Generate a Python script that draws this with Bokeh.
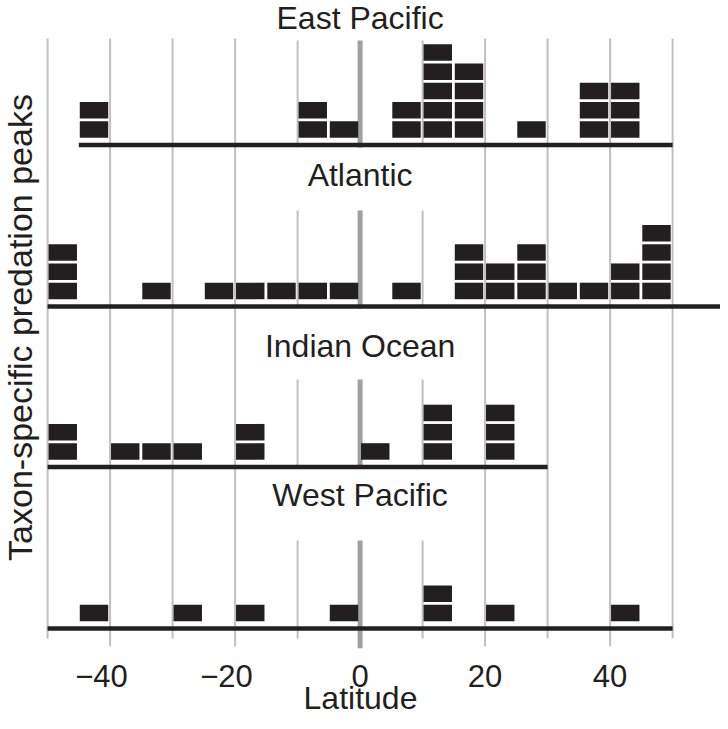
import math
from bokeh.plotting import figure
from bokeh.models import Range1d, FixedTicker, ColumnDataSource
from bokeh.core.properties import value
from bokeh.embed import file_html
from bokeh.resources import INLINE

# ---------------- data ----------------
bin_start = [-50, -45, -40, -35, -30, -25, -20, -15, -10, -5,
             0, 5, 10, 15, 20, 25, 30, 35, 40, 45]
east_pacific = [0, 2, 0, 0, 0, 0, 0, 0, 2, 1, 0, 2, 5, 4, 0, 1, 0, 3, 3, 0]
atlantic     = [3, 0, 0, 1, 0, 1, 1, 1, 1, 1, 0, 1, 0, 3, 2, 3, 1, 1, 2, 4]
indian_ocean = [2, 0, 1, 1, 1, 0, 2, 0, 0, 0, 1, 0, 3, 0, 3, 0, 0, 0, 0, 0]
west_pacific = [0, 1, 0, 0, 1, 0, 1, 0, 0, 1, 0, 0, 2, 0, 1, 0, 0, 0, 1, 0]
region_names = ["East Pacific", "Atlantic", "Indian Ocean", "West Pacific"]
sampled_from = [-45, -50, -50, -50]
sampled_to = [50, 60, 30, 50]
x_ticks = [-40, -20, 0, 20, 40]
x_tick_labels = ["\u221240\u2007", "\u221220\u2007", "0", "20", "40"]
x_title = "Latitude"
y_title = "Taxon-specific predation peaks"

# ---------------- layout (canvas pixel coordinates) ----------------
W, H = 720, 721
FRAME_H = 648
BOTTOM = H - FRAME_H
PX_PER_DEG = 6.25
ZERO_X = 359.6            # canvas x of latitude 0
PITCH = 19.25             # px per stacked block
BLOCK_H = 16.5 / PITCH
BLOCK_GAP = 7.3 / PITCH
FONT = "Liberation Sans"
INK = "#231f20"
MID = 0.3465              # baseline-to-middle offset (em) for Liberation Sans


def ydat(cy):
    return (FRAME_H - cy) / PITCH


def xdat(cx):
    return (cx - ZERO_X) / PX_PER_DEG


baseline_px = [144.5, 306, 466.5, 628]
title_base_px = [29, 186, 356.5, 506]
seg_top_px = [40, 210, 379, 540]
seg_bot_px = [147, 308, 467, 638]

p = figure(width=W, height=H, output_backend="svg", toolbar_location=None,
           x_range=Range1d(xdat(0), xdat(W)),
           y_range=Range1d(0, FRAME_H / PITCH),
           y_axis_location=None,
           min_border_left=0, min_border_right=0, min_border_top=0,
           min_border_bottom=BOTTOM)
p.outline_line_color = None
p.xgrid.visible = False
p.ygrid.visible = False
p.background_fill_color = "white"
p.border_fill_color = "white"

# ---- vertical guide lines ----
gx0, gy0, gy1 = [], [], []
for lat in [-50, -40, -30, -20, 20, 30, 40, 50]:
    gx0.append(lat)
    gy0.append(ydat(646 if lat in x_ticks else 638))
    gy1.append(ydat(38))
for t, b in zip(seg_top_px, seg_bot_px):
    for lat in [-10, 10]:
        gx0.append(lat)
        gy0.append(ydat(b))
        gy1.append(ydat(t))
p.segment(x0=gx0, y0=gy0, x1=gx0, y1=gy1, line_color="#c0c0c0", line_width=2)

zx, zy0, zy1 = [], [], []
for i, (t, b) in enumerate(zip(seg_top_px, seg_bot_px)):
    zx.append(0)
    zy0.append(ydat(648 if i == 3 else b))
    zy1.append(ydat(t))
p.segment(x0=zx, y0=zy0, x1=zx, y1=zy1, line_color="#a0a0a0", line_width=5)

# ---- baselines ----
by = [ydat(b) for b in baseline_px]
p.segment(x0=sampled_from, y0=by, x1=sampled_to, y1=by, line_color=INK, line_width=4.4)

# ---- stacked blocks ----
left, right, bottom, top = [], [], [], []
for counts, base in zip([east_pacific, atlantic, indian_ocean, west_pacific], by):
    for b0, c in zip(bin_start, counts):
        for k in range(c):
            left.append(b0 + 0.15)
            right.append(b0 + 4.7)
            bottom.append(base + BLOCK_GAP + k)
            top.append(base + BLOCK_GAP + k + BLOCK_H)
src = ColumnDataSource(dict(left=left, right=right, bottom=bottom, top=top))
p.quad(left="left", right="right", bottom="bottom", top="top", source=src,
       fill_color=INK, line_color=None)

# ---- panel titles ----
TITLE_FS = 32
p.text(x=[0] * 4, y=[ydat(t - MID * TITLE_FS) for t in title_base_px], text=region_names,
       text_font=value(FONT), text_font_size=f"{TITLE_FS}px", text_color=INK,
       text_align="center", text_baseline="middle")

# ---- y title ----
YT_FS = 34
p.text(x=[xdat(31 - MID * YT_FS)], y=[ydat(327)], text=[y_title], angle=math.pi / 2,
       text_font=value(FONT), text_font_size=f"{YT_FS}px", text_color=INK,
       text_align="center", text_baseline="middle")

# ---- x axis ----
ax = p.xaxis[0]
ax.ticker = FixedTicker(ticks=x_ticks)
ax.major_label_overrides = dict(zip(x_ticks, x_tick_labels))
ax.axis_line_color = None
ax.major_tick_line_color = None
ax.minor_tick_line_color = None
ax.major_tick_out = 0
ax.major_tick_in = 0
ax.major_label_standoff = 10
ax.major_label_text_font = FONT
ax.major_label_text_font_size = "31px"
ax.major_label_text_color = INK
ax.axis_label = x_title
ax.axis_label_standoff = -17
ax.axis_label_text_font = FONT
ax.axis_label_text_font_size = "32px"
ax.axis_label_text_font_style = "normal"
ax.axis_label_text_color = INK

open("out.html", "w").write(file_html(p, INLINE))
